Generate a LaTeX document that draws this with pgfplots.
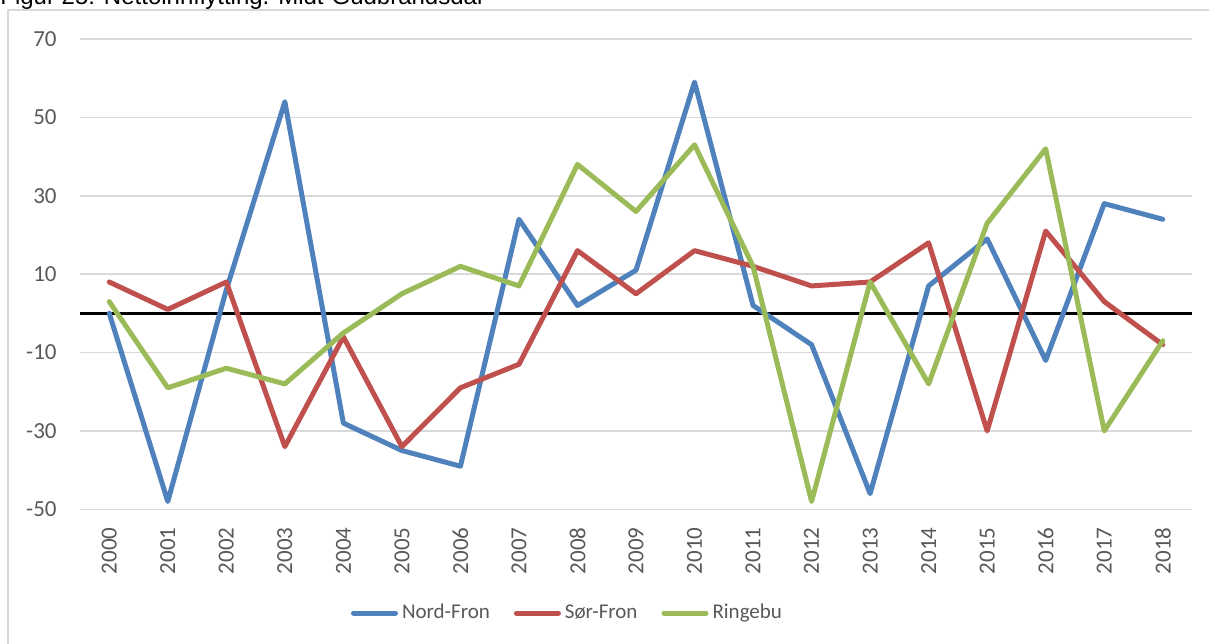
\documentclass[border=0pt]{standalone}
\usepackage{fontspec}
\setmainfont{Carlito}
\newfontfamily\arialfont{Liberation Sans}
\usepackage{pgfplots}
\usepackage{pgfplotstable}
\pgfplotsset{compat=1.18}
\definecolor{nf}{HTML}{4F81BD}
\definecolor{sf}{HTML}{C0504D}
\definecolor{rb}{HTML}{9BBB59}
\definecolor{gridgray}{HTML}{D9D9D9}
\definecolor{labgray}{HTML}{595959}

\pgfplotstableread{
x  NF   SF   RB
0   0    8    3
1  -48   1  -19
2   6    8  -14
3   54  -34 -18
4  -28  -6   -5
5  -35  -34   5
6  -39  -19  12
7   24  -13   7
8   2    16  38
9   11   5   26
10  59   16  43
11  2    12  12
12  -8   7  -48
13  -46  8    8
14  7    18 -18
15  19  -30  23
16  -12  21  42
17  28   3  -30
18  24  -8   -7
}\datatable

\begin{document}
\begin{tikzpicture}
\path[use as bounding box, clip] (0pt,0pt) rectangle (604.5pt,-321.5pt);
\fill[white] (0pt,0pt) rectangle (604.5pt,-321.5pt);
\draw[gridgray, line width=0.75pt] (4pt,-5pt) rectangle (620pt,-340pt);
\node[anchor=base west, inner sep=0pt, font=\arialfont\fontsize{12pt}{14pt}\selectfont] at (0pt,-2.3pt) {Figur 25: Nettoinnflytting. Midt-Gudbrandsdal};
\begin{axis}[
  at={(40pt,-254.65pt)}, anchor=south west,
  scale only axis, width=556pt, height=235.15pt,
  xmin=-0.5, xmax=18.5, ymin=-50, ymax=70,
  xtick={0,...,18},
  xticklabels={2000,2001,2002,2003,2004,2005,2006,2007,2008,2009,2010,2011,2012,2013,2014,2015,2016,2017,2018},
  ytick={-50,-30,-10,10,30,50,70},
  yticklabels={-50,-30,-10,10,30,50,70},
  extra y ticks={0}, extra y tick labels={},
  extra y tick style={grid=major, major grid style={black, line width=1.5pt}},
  ymajorgrids, major grid style={gridgray, line width=0.75pt},
  axis line style={draw=none},
  major tick length=0pt,
  tick label style={font=\fontsize{11.5pt}{13pt}\selectfont, text=labgray, inner sep=0pt},
  xticklabel style={rotate=90, anchor=east},
  xticklabel shift=8.9pt,
  yticklabel shift=11.5pt,
  legend columns=-1,
  legend style={draw=none, fill=none, at={(0.4384,-0.2205)}, anchor=center,
    font=\fontsize{10.5pt}{12pt}\selectfont, text=labgray,
    nodes={inner sep=1pt},
    /tikz/every odd column/.append style={column sep=1pt},
    /tikz/every even column/.append style={column sep=11pt}},
  legend image code/.code={\draw[#1, line width=2.5pt, line cap=round] (1.25pt,0pt) -- (22.25pt,0pt);},
  every axis plot/.append style={line width=2.5pt, line join=round, line cap=round, mark=none},
]
\addplot[nf] table[x=x, y=NF] {\datatable};
\addlegendentry{Nord-Fron}
\addplot[sf] table[x=x, y=SF] {\datatable};
\addlegendentry{Sør-Fron}
\addplot[rb] table[x=x, y=RB] {\datatable};
\addlegendentry{Ringebu}
\end{axis}
\end{tikzpicture}
\end{document}
